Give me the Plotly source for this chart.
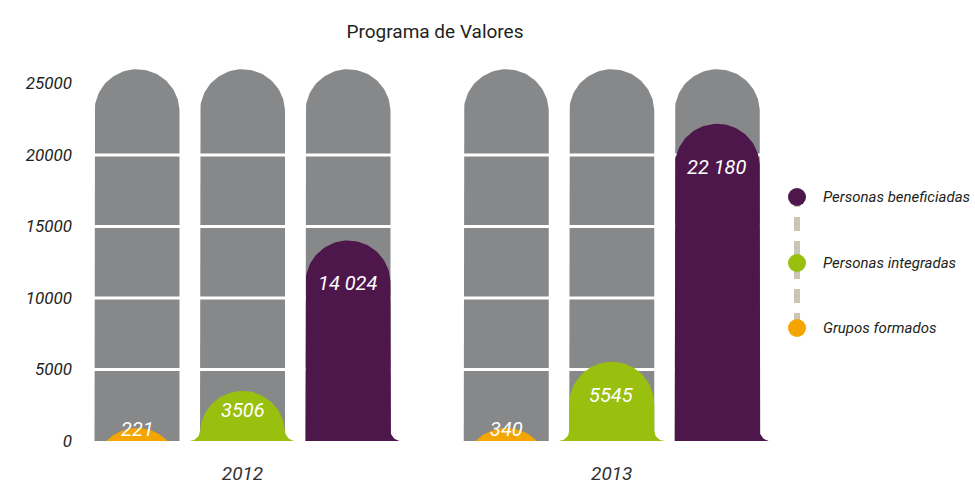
import numpy as np
import plotly.graph_objects as go

# ---------------- data ----------------
years = ["2012", "2013"]
series = ["Grupos formados", "Personas integradas", "Personas beneficiadas"]
grupos_formados = [221, 340]
personas_integradas = [3506, 5545]
personas_beneficiadas = [14024, 22180]
value_labels_grupos = ["221", "340"]
value_labels_integradas = ["3506", "5545"]
value_labels_beneficiadas = ["14 024", "22 180"]
y_tick_values = [0, 5000, 10000, 15000, 20000, 25000]
y_tick_labels = ["0", "5000", "10000", "15000", "20000", "25000"]
legend_order = ["Personas beneficiadas", "Personas integradas", "Grupos formados"]
title_text = "Programa de Valores"

series_values = {
    "Grupos formados": grupos_formados,
    "Personas integradas": personas_integradas,
    "Personas beneficiadas": personas_beneficiadas,
}
series_labels = {
    "Grupos formados": value_labels_grupos,
    "Personas integradas": value_labels_integradas,
    "Personas beneficiadas": value_labels_beneficiadas,
}

# ---------------- style ----------------
colors = {
    "Grupos formados": "#f5a500",
    "Personas integradas": "#99bf0f",
    "Personas beneficiadas": "#4e174b",
}
flares = {  # concave foot on (left, right)
    "Grupos formados": (False, False),
    "Personas integradas": (True, True),
    "Personas beneficiadas": (False, True),
}
GRAY = "#87888a"
GRID_STEP = 5000
COLUMN_TOP = 26000          # decorative full-height column
MIN_DOME_PX = 13            # minimum visible dome height
FONT = "Roboto, sans-serif"
TXT = "#231f20"

W, H = 975, 486
ML, MR, MT, MB = 80, 195, 60, 45
PW, PH = W - ML - MR, H - MT - MB
PPX = 105.5                 # px per x unit
X0 = -57 / PPX
X1 = X0 + PW / PPX
PPY = 71.5 / GRID_STEP      # px per value unit
YMAX = PH / PPY
GROUP_STEP = 3.5
HALF_W_PX = 42.5
FILLET_PX = 10.5


def dome(top_px, half_w, r, fl, fr_, fil):
    """polygon in px offsets (dx from centre, dy from baseline)"""
    pts = []
    if top_px >= r:
        if fl:
            cx, cy = -half_w - fil, fil
            for t in np.linspace(-np.pi / 2, 0, 12):
                pts.append((cx + fil * np.cos(t), cy + fil * np.sin(t)))
        else:
            pts.append((-half_w, 0))
        cyc = top_px - r
        for t in np.linspace(np.pi, 0, 60):
            pts.append((r * np.cos(t), cyc + r * np.sin(t)))
        if fr_:
            cx, cy = half_w + fil, fil
            for t in np.linspace(np.pi, 1.5 * np.pi, 12):
                pts.append((cx + fil * np.cos(t), cy + fil * np.sin(t)))
        else:
            pts.append((half_w, 0))
    else:
        c = top_px - r
        t0 = np.arcsin(-c / r)
        for t in np.linspace(np.pi - t0, t0, 50):
            pts.append((r * np.cos(t), c + r * np.sin(t)))
    pts.append(pts[0])
    return pts


def to_data(xc, pts):
    xs = [xc + dx / PPX for dx, dy in pts]
    ys = [max(dy, 0) / PPY for dx, dy in pts]
    return xs, ys


fig = go.Figure()

# background columns
for g, yr in enumerate(years):
    for s, name in enumerate(series):
        xc = g * GROUP_STEP + s
        xs, ys = to_data(xc, dome(COLUMN_TOP * PPY, HALF_W_PX, HALF_W_PX, False, False, 0))
        fig.add_trace(go.Scatter(x=xs, y=ys, fill="toself", fillcolor=GRAY, mode="lines",
                                 line=dict(width=0, color=GRAY), hoverinfo="skip", showlegend=False))

# white grid lines over the columns
for v in y_tick_values[1:-1]:
    fig.add_trace(go.Scatter(x=[X0, X1], y=[v, v], mode="lines",
                             line=dict(color="white", width=3), hoverinfo="skip", showlegend=False))

# value shapes
annotations = []
for g, yr in enumerate(years):
    for s, name in enumerate(series):
        xc = g * GROUP_STEP + s
        val = series_values[name][g]
        top_px = max(val * PPY, MIN_DOME_PX)
        fl, fr_ = flares[name]
        xs, ys = to_data(xc, dome(top_px, HALF_W_PX, HALF_W_PX, fl, fr_, FILLET_PX))
        fig.add_trace(go.Scatter(x=xs, y=ys, fill="toself", fillcolor=colors[name], mode="lines",
                                 line=dict(width=0, color=colors[name]), name=name,
                                 hovertext=f"{name} {yr}: {val}", hoverinfo="text", showlegend=False))
        off = min(43, 0.5 * top_px - 6)
        annotations.append(dict(x=xc, y=(top_px - off) / PPY, xref="x", yref="y",
                                text=series_labels[name][g], showarrow=False,
                                font=dict(family=FONT, size=20, color="white", style="italic"),
                                xanchor="center", yanchor="middle"))

# legend (custom)
leg_y_px = [197, 263, 328]
leg_x_px = 797
def px2paper(xp, yp):
    return (xp - ML) / PW, (H - MB - yp) / PH

lx, _ = px2paper(leg_x_px, 0)
_, ytop = px2paper(0, leg_y_px[0] - 4)
_, ybot = px2paper(0, leg_y_px[-1])
shapes = [dict(type="line", xref="paper", yref="paper", x0=lx, x1=lx, y0=ytop, y1=ybot,
               line=dict(color="#c9c6b8", width=6, dash="14px,10px"), layer="above")]
for name, yp in zip(legend_order, leg_y_px):
    px_, py_ = px2paper(leg_x_px, yp)
    shapes.append(dict(type="circle", xref="paper", yref="paper", xsizemode="pixel", ysizemode="pixel",
                       xanchor=px_, yanchor=py_, x0=-9, x1=9, y0=-9, y1=9,
                       fillcolor=colors[name], line=dict(width=0), layer="above"))
    tx, ty = px2paper(821, yp)
    annotations.append(dict(x=tx, y=ty, xref="paper", yref="paper", text=name, showarrow=False,
                            xanchor="left", yanchor="middle",
                            font=dict(family=FONT, size=15, color=TXT, style="italic")))

fig.update_layout(
    width=W, height=H, margin=dict(l=ML, r=MR, t=MT, b=MB, autoexpand=False),
    paper_bgcolor="white", plot_bgcolor="white",
    title=dict(text=title_text, xref="container", yref="container", x=435 / W, y=1 - 31 / H,
               xanchor="center", yanchor="middle", font=dict(family=FONT, size=19, color=TXT)),
    xaxis=dict(range=[X0, X1], showgrid=False, zeroline=False, showline=False, automargin=False,
               tickvals=[g * GROUP_STEP + 1 for g in range(len(years))], ticktext=years,
               ticks="", ticklabelstandoff=19,
               tickfont=dict(family=FONT, size=19, color="#333333", style="italic"), fixedrange=True),
    yaxis=dict(range=[0, YMAX], showgrid=False, zeroline=False, showline=False, automargin=False,
               tickvals=y_tick_values, ticktext=y_tick_labels, ticks="", ticklabelstandoff=7,
               tickfont=dict(family=FONT, size=17, color=TXT, style="italic"), fixedrange=True),
    shapes=shapes, annotations=annotations, showlegend=False,
)

fig.write_html("out.html", config={"displayModeBar": False},
               post_script="document.body.style.margin='0px';")
